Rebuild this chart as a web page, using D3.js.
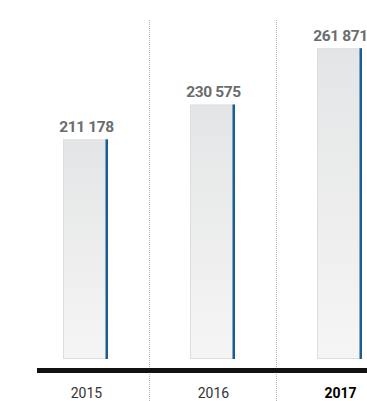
<!DOCTYPE html>
<html>
<head>
<meta charset="utf-8">
<script src="https://cdn.jsdelivr.net/npm/d3@7"></script>
<style>
  body { margin: 0; background: #fff; }
  svg { display: block; font-family: Roboto, "Liberation Sans", sans-serif; }
</style>
</head>
<body>
<svg id="chart" width="367" height="401"></svg>
<script>
// data
const years = ["2015", "2016", "2017"];
const values = [211178, 230575, 261871];
const highlightYear = "2017";

const width = 367, height = 401;
const barBottom = 359;

const svg = d3.select("#chart");

// x: one band per year, dividers half way between bars
const x = d3.scaleBand()
    .domain(years)
    .range([22, 403])
    .paddingInner(0.6457)
    .paddingOuter(0.3228);

// y: linear, not zero based (bars are drawn on a cut axis)
const y = d3.scaleLinear()
    .domain([89000, 262000])
    .range([barBottom, 48]);

const fmt = v => d3.format(",")(v).replace(/,/g, " ");

// gradient for bars
const grad = svg.append("defs")
    .append("linearGradient")
    .attr("id", "barGrad")
    .attr("x1", "0%").attr("y1", "0%")
    .attr("x2", "0%").attr("y2", "100%");
grad.append("stop").attr("offset", "0%").attr("stop-color", "#e4e5e6");
grad.append("stop").attr("offset", "100%").attr("stop-color", "#f5f5f5");

// dotted separators
const step = x.step();
const seps = years.slice(0, -1).map(d => x(d) + x.bandwidth() + (step - x.bandwidth()) / 2);
svg.selectAll("line.sep")
    .data(seps)
    .enter().append("line")
    .attr("class", "sep")
    .attr("x1", d => Math.round(d) + 0.5)
    .attr("x2", d => Math.round(d) + 0.5)
    .attr("y1", 20)
    .attr("y2", height)
    .attr("stroke", "#b5b5b5")
    .attr("stroke-width", 1)
    .attr("stroke-dasharray", "1,1");

const data = years.map((d, i) => ({ year: d, value: values[i] }));

const bars = svg.selectAll("g.bar")
    .data(data)
    .enter().append("g")
    .attr("class", "bar");

bars.append("rect")
    .attr("x", d => x(d.year) + 0.5)
    .attr("y", d => y(d.value) + 0.5)
    .attr("width", x.bandwidth() - 1)
    .attr("height", d => barBottom - y(d.value) - 1)
    .attr("fill", "url(#barGrad)")
    .attr("stroke", "#dcdddf")
    .attr("stroke-width", 1);

// blue stripe on the right side
bars.append("rect")
    .attr("x", d => x(d.year) + x.bandwidth() - 2.5)
    .attr("y", d => y(d.value))
    .attr("width", 2.5)
    .attr("height", d => barBottom - y(d.value))
    .attr("fill", "#1b5d93");

// value labels
bars.append("text")
    .attr("x", d => x(d.year) + x.bandwidth() / 2 + 1)
    .attr("y", d => y(d.value) - 7)
    .attr("text-anchor", "middle")
    .attr("font-size", 15.5)
    .attr("font-weight", "bold")
    .attr("fill", "#6b6c6e")
    .attr("letter-spacing", "-0.4")
    .text(d => fmt(d.value));

// baseline
svg.append("rect")
    .attr("x", 37)
    .attr("y", 368)
    .attr("width", width - 37)
    .attr("height", 5)
    .attr("fill", "#111");

// year labels
svg.selectAll("text.year")
    .data(years)
    .enter().append("text")
    .attr("class", "year")
    .attr("x", d => x(d) + x.bandwidth() / 2 + 1)
    .attr("y", 398)
    .attr("text-anchor", "middle")
    .attr("font-size", 14)
    .attr("font-weight", d => d === highlightYear ? "bold" : "normal")
    .attr("fill", d => d === highlightYear ? "#000" : "#333")
    .text(d => d);
</script>
</body>
</html>
